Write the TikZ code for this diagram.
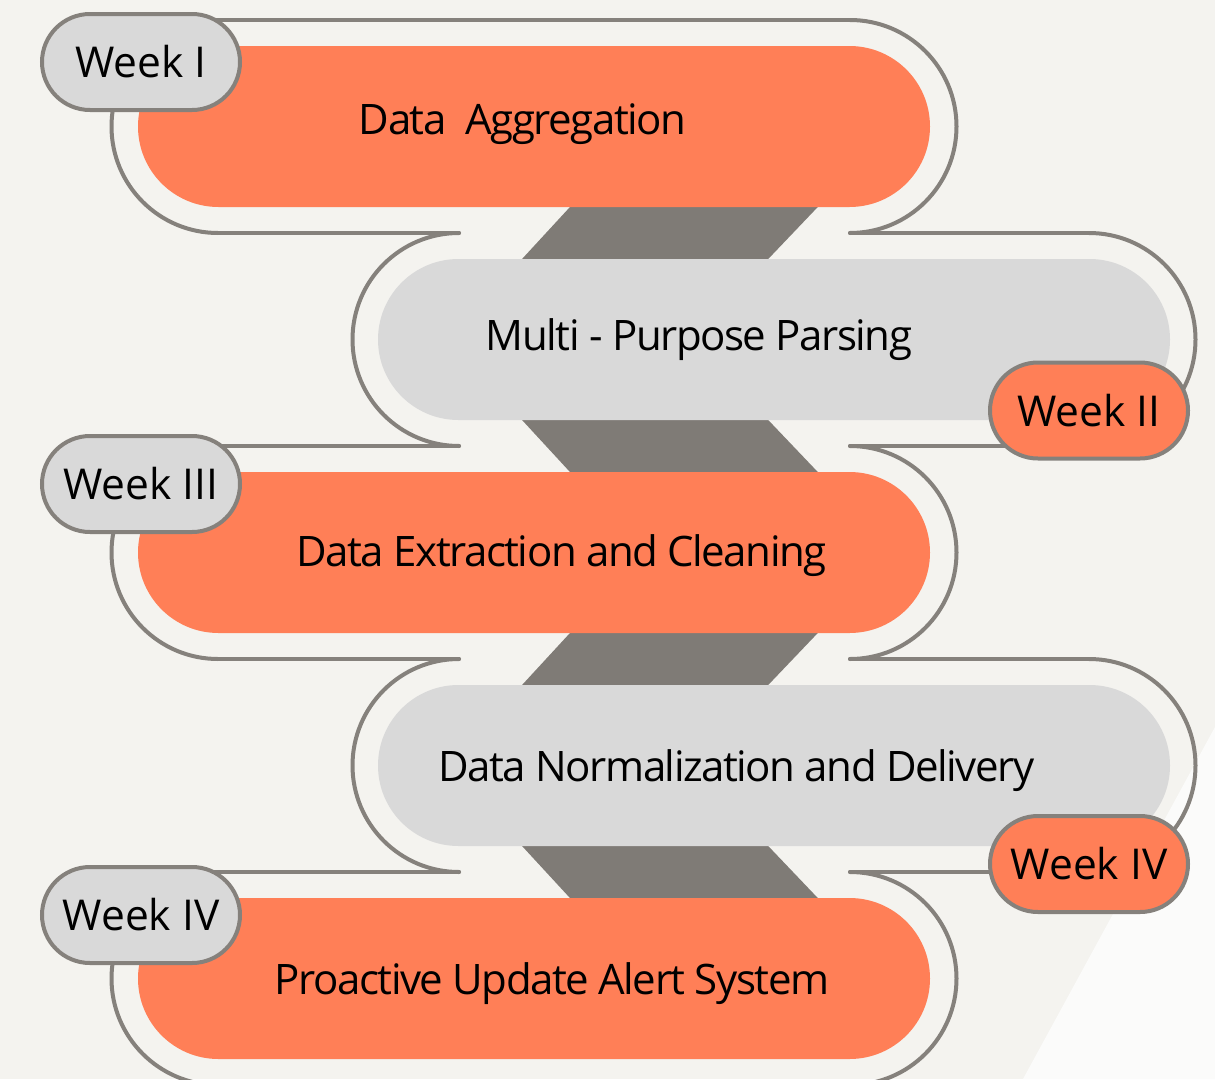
\documentclass[tikz,border=0pt]{standalone}
\usepackage{fontspec}
\setmainfont{Open Sans}
\newfontfamily\tightfont[LetterSpace=-3.5]{Open Sans}
\definecolor{bg}{HTML}{F4F3EF}
\definecolor{bglight}{HTML}{FBFBFA}
\definecolor{orng}{HTML}{FF7F57}
\definecolor{lgrey}{HTML}{D9D9D9}
\definecolor{dgrey}{HTML}{7F7B76}
\definecolor{strk}{HTML}{85817C}
\begin{document}
\begin{tikzpicture}[x=1pt,y=-1pt,
 outl/.style={draw=strk,line width=4pt,line cap=round},
 bar/.style={rectangle,rounded corners=80.5pt,minimum width=792pt,minimum height=161pt,inner sep=0pt,draw=none},
 obar/.style={bar,fill=orng},
 gbar/.style={bar,fill=lgrey},
 pill/.style={rectangle,rounded corners=48pt,minimum width=198pt,minimum height=96pt,inner sep=0pt,draw=strk,line width=4pt,font=\fontsize{42.5}{50}\selectfont,text=black},
 opill/.style={pill,fill=orng},
 gpill/.style={pill,fill=lgrey},
 lbl/.style={anchor=base,inner sep=0pt,font=\tightfont\fontsize{42}{50}\selectfont,text=black},
 link/.style={fill=dgrey}]
\fill[bg] (0,0) rectangle (1215,1079);
\useasboundingbox (0,0) rectangle (1215,1079);
\fill[bglight] (1215,727) -- (1023,1079) -- (1215,1079) -- cycle;

% outline path pieces
\draw[outl] (218,20) -- (850,20);
\draw[outl] (850,20) arc[start angle=-90,end angle=90,radius=106.5];
\draw[outl] (218,20) arc[start angle=-90,end angle=-270,radius=106.5];
\foreach \y in {233,659} {
  \draw[outl] (218,\y) -- (459,\y);
  \draw[outl] (850,\y) -- (1089,\y);
  \draw[outl] (459,\y) arc[start angle=-90,end angle=-270,radius=106.5];
  \draw[outl] (1089,\y) arc[start angle=-90,end angle=90,radius=106.5];
}
\foreach \y in {446,872} {
  \draw[outl] (218,\y) -- (459,\y);
  \draw[outl] (850,\y) -- (1089,\y);
  \draw[outl] (218,\y) arc[start angle=-90,end angle=-270,radius=106.5];
  \draw[outl] (850,\y) arc[start angle=-90,end angle=90,radius=106.5];
}
\draw[outl] (218,1085) -- (850,1085);

% links between bars
\fill[link] (575.5,201) -- (823.5,201) -- (762.5,265) -- (516.5,265) -- cycle;
\fill[link] (516.5,414) -- (762.5,414) -- (823.5,478) -- (575.5,478) -- cycle;
\fill[link] (575.5,627) -- (823.5,627) -- (762.5,691) -- (516.5,691) -- cycle;
\fill[link] (516.5,840) -- (762.5,840) -- (823.5,904) -- (575.5,904) -- cycle;

% bars
\node[obar] (b1) at (534,126.5) {};
\node[gbar] (b2) at (774,339.5) {};
\node[obar] (b3) at (534,552.5) {};
\node[gbar] (b4) at (774,765.5) {};
\node[obar] (b5) at (534,978.5) {};

% bar texts
\node[lbl] (t1) at (522.5,134) {Data\ \ Aggregation};
\node[lbl] (t2) at (699,350) {Multi - Purpose Parsing};
\node[lbl] (t3) at (561.5,566) {Data Extraction and Cleaning};
\node[lbl] (t4) at (736.5,781) {Data Normalization and Delivery};
\node[lbl] (t5) at (552,994) {Proactive Update Alert System};

% week pills
\node[gpill] (w1) at (141,62) {Week I};
\node[opill] (w2) at (1089,410.5) {Week II};
\node[gpill] (w3) at (141,484) {Week III};
\node[opill] (w4) at (1089,864) {Week IV};
\node[gpill] (w5) at (141,915) {Week IV};
\end{tikzpicture}
\end{document}
